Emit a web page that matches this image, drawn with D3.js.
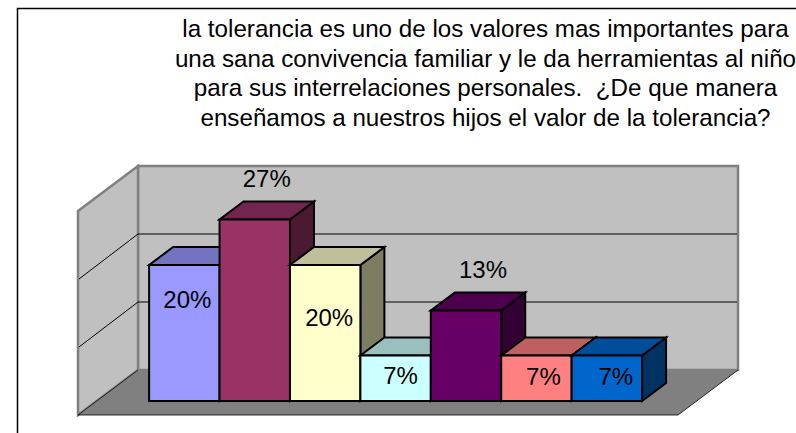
<!DOCTYPE html>
<html>
<head>
<meta charset="utf-8">
<script src="https://cdn.jsdelivr.net/npm/d3@7"></script>
<style>
  html, body { margin: 0; padding: 0; background: #fff; }
  svg { display: block; }
  text { font-family: "Liberation Sans", Arial, sans-serif; fill: #000; }
</style>
</head>
<body>
<script>
const titleLines = [
  'la tolerancia es uno de los valores mas importantes para',
  'una sana convivencia familiar y le da herramientas al niño',
  'para sus interrelaciones personales.  ¿De que manera',
  'enseñamos a nuestros hijos el valor de la tolerancia?'
];
const categories = ['a', 'b', 'c', 'd', 'e', 'f', 'g'];
const values = [20, 26.7, 20, 6.7, 13.3, 6.7, 6.7];
const colors = ['#9999ff', '#993366', '#ffffcc', '#ccffff', '#660066', '#ff8080', '#0066cc'];
// hand placed labels in the original, offset from the bar top centre
const labelNudge = [[3, 34], [12, -41], [4, 52], [5, 20], [17, -41], [7, 21], [9, 21]];

const width = 796, height = 433;
const floorLeft = 78, floorRight = 678, floorFront = 415;
const depthX = 60, depthY = 45;
const barDepth = 0.31, barDepthEnd = 0.71;

const svg = d3.select('body').append('svg')
  .attr('width', width)
  .attr('height', height);

const x = d3.scaleBand().domain(categories).range([floorLeft - 1, floorRight - 1]).paddingInner(0).paddingOuter(0.76);
const y = d3.scaleLinear().domain([0, 30]).range([floorFront, floorFront - 204]);

// project a point on the chart plane back into the depth of the box
const pt = (px, py, d) => [px + depthX * d, py - depthY * d];
const poly = pts => d3.line()(pts) + 'Z';

// chart frame
svg.append('path')
  .attr('d', d3.line()([[17.5, height], [17.5, 8.5], [width, 8.5]]))
  .attr('fill', 'none').attr('stroke', '#000').attr('stroke-width', 1.5);

// walls and floor
const wallTop = y(30), base = y(0);
svg.append('path')
  .attr('d', poly([pt(floorLeft, base, 1), pt(floorRight, base, 1), pt(floorRight, base, 0), pt(floorLeft, base, 0)]))
  .attr('fill', '#808080').attr('stroke', 'none');
svg.append('path')
  .attr('d', poly([pt(floorLeft, wallTop, 1), pt(floorRight, wallTop, 1), pt(floorRight, base, 1), pt(floorLeft, base, 1)]))
  .attr('fill', '#c0c0c0').attr('stroke', '#808080').attr('stroke-width', 2.5);
svg.append('path')
  .attr('d', poly([pt(floorLeft, wallTop, 0), pt(floorLeft, wallTop, 1), pt(floorLeft, base, 1), pt(floorLeft, base, 0)]))
  .attr('fill', '#c0c0c0').attr('stroke', '#808080').attr('stroke-width', 2.5);
// thin edges of the floor
svg.append('path')
  .attr('d', d3.line()([pt(floorRight, base, 1), pt(floorRight, base, 0), pt(floorLeft, base, 0), pt(floorLeft, base, 1)]))
  .attr('fill', 'none').attr('stroke', '#000').attr('stroke-width', 0.8);

// gridlines
svg.append('g').selectAll('path')
  .data(y.ticks(3).filter(t => t > 0 && t < 30))
  .enter().append('path')
  .attr('d', t => d3.line()([pt(floorLeft + 1, y(t), 0), pt(floorLeft, y(t), 1), pt(floorRight - 1, y(t), 1)]))
  .attr('fill', 'none').attr('stroke', '#000').attr('stroke-width', 1);

// bars, left to right so each covers the side of the one before
const bars = svg.append('g').selectAll('g')
  .data(categories.map((c, i) => ({ c, v: values[i], color: colors[i] })))
  .enter().append('g')
  .attr('stroke', '#000').attr('stroke-width', 2).attr('stroke-linejoin', 'miter');

const barPts = d => {
  const l = x(d.c), r = l + x.bandwidth(), t = y(d.v);
  return { l, r, t, b: base };
};
bars.append('path')
  .attr('d', d => { const p = barPts(d); return poly([pt(p.r, p.t, barDepth), pt(p.r, p.t, barDepthEnd), pt(p.r, p.b, barDepthEnd), pt(p.r, p.b, barDepth)]); })
  .attr('fill', d => d3.rgb(d.color).darker(2).formatHex());
bars.append('path')
  .attr('d', d => { const p = barPts(d); return poly([pt(p.l, p.t, barDepth), pt(p.r, p.t, barDepth), pt(p.r, p.t, barDepthEnd), pt(p.l, p.t, barDepthEnd)]); })
  .attr('fill', d => { const c = d3.rgb(d.color); return d3.rgb(c.r * 0.75, c.g * 0.75, c.b * 0.75).formatHex(); });
bars.append('path')
  .attr('d', d => { const p = barPts(d); return poly([pt(p.l, p.t, barDepth), pt(p.r, p.t, barDepth), pt(p.r, p.b, barDepth), pt(p.l, p.b, barDepth)]); })
  .attr('fill', d => d.color);

// value labels
svg.append('g').selectAll('text')
  .data(values)
  .enter().append('text')
  .attr('x', (v, i) => pt(x(categories[i]) + x.bandwidth() / 2, y(v), barDepth)[0] + labelNudge[i][0])
  .attr('y', (v, i) => pt(x(categories[i]) + x.bandwidth() / 2, y(v), barDepth)[1] + labelNudge[i][1])
  .attr('text-anchor', 'middle')
  .attr('dominant-baseline', 'central')
  .attr('font-size', 24)
  .text(v => Math.round(v) + '%');

// title
svg.append('g').selectAll('text')
  .data(titleLines)
  .enter().append('text')
  .style('white-space', 'pre')
  .attr('x', 485.5)
  .attr('y', (d, i) => 37 + i * 29.6)
  .attr('text-anchor', 'middle')
  .attr('font-size', 24.2)
  .text(d => d);
</script>
</body>
</html>
